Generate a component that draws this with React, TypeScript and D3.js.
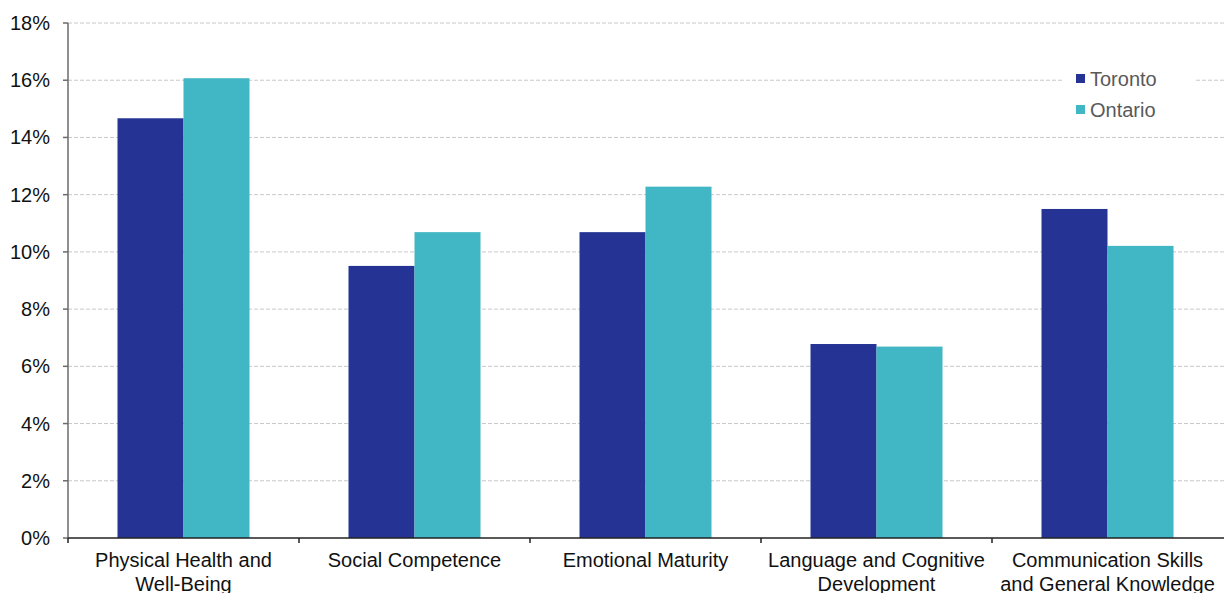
import React from "react";
import * as d3 from "d3";

const categories: string[][] = [
  ["Physical Health and", "Well-Being"],
  ["Social Competence"],
  ["Emotional Maturity"],
  ["Language and Cognitive", "Development"],
  ["Communication Skills", "and General Knowledge"],
];
const seriesNames = ["Toronto", "Ontario"];
const toronto = [14.67, 9.51, 10.69, 6.78, 11.5];
const ontario = [16.07, 10.69, 12.28, 6.69, 10.21];
const yTicks = [0, 2, 4, 6, 8, 10, 12, 14, 16, 18];
const colors = ["#253494", "#41b6c4"];

const W = 1224;
const H = 593;
const margin = { left: 68, right: 1, top: 23, bottom: 55 };

export default function App() {
  const x = d3
    .scaleBand<number>()
    .domain(categories.map((_, i) => i))
    .range([margin.left, W - margin.right])
    .paddingInner(0)
    .paddingOuter(0);
  const inner = d3
    .scaleBand<number>()
    .domain([0, 1])
    .range([0, x.bandwidth()])
    .paddingOuter(0.75);
  const y = d3.scaleLinear().domain([0, 18]).range([H - margin.bottom, margin.top]);
  const series = [toronto, ontario];
  const font = "'Liberation Sans', Arial, sans-serif";

  return (
    <svg
      width={W}
      height={H}
      style={{ position: "absolute", left: 0, top: 0, background: "#fff" }}
      fontFamily={font}
    >
      {/* gridlines */}
      {yTicks.slice(1).map((t) => (
        <line
          key={"g" + t}
          x1={margin.left}
          x2={W}
          y1={y(t)}
          y2={y(t)}
          stroke="#c8c8c8"
          strokeWidth={1}
          strokeDasharray="4,2"
        />
      ))}
      {/* bars */}
      {categories.map((_, i) =>
        series.map((s, k) => (
          <rect
            key={`b${i}-${k}`}
            x={(x(i) ?? 0) + (inner(k) ?? 0)}
            y={y(s[i])}
            width={inner.bandwidth()}
            height={y(0) - y(s[i])}
            fill={colors[k]}
          />
        ))
      )}
      {/* y axis */}
      <line x1={margin.left} x2={margin.left} y1={y(18)} y2={y(0)} stroke="#6b6b6b" strokeWidth={1.5} />
      {yTicks.map((t) => (
        <g key={"t" + t}>
          <line x1={margin.left - 5} x2={margin.left} y1={y(t)} y2={y(t)} stroke="#6b6b6b" strokeWidth={1.5} />
          <text x={50} y={y(t)} dy="0.35em" textAnchor="end" fontSize={20} fill="#111">
            {t}%
          </text>
        </g>
      ))}
      {/* x axis */}
      <line x1={margin.left} x2={W} y1={y(0)} y2={y(0)} stroke="#222" strokeWidth={1.5} />
      {categories.map((_, i) => (
        <line
          key={"xt" + i}
          x1={x(i)}
          x2={x(i)}
          y1={y(0)}
          y2={y(0) + 5}
          stroke="#222"
          strokeWidth={1.5}
        />
      ))}
      {categories.map((lines, i) => (
        <text
          key={"xl" + i}
          x={(x(i) ?? 0) + x.bandwidth() / 2}
          y={567}
          textAnchor="middle"
          fontSize={20}
          fill="#111"
        >
          {lines.map((l, j) => (
            <tspan key={j} x={(x(i) ?? 0) + x.bandwidth() / 2} dy={j === 0 ? 0 : 24}>
              {l}
            </tspan>
          ))}
        </text>
      ))}
      {/* legend */}
      <rect x={1062} y={60} width={133} height={66} fill="#fff" />
      {seriesNames.map((n, k) => (
        <g key={"l" + k}>
          <rect x={1076} y={74 + k * 31} width={9} height={9} fill={colors[k]} />
          <text x={1090} y={79 + k * 31} dy="0.35em" fontSize={20} fill="#595959">
            {n}
          </text>
        </g>
      ))}
    </svg>
  );
}
